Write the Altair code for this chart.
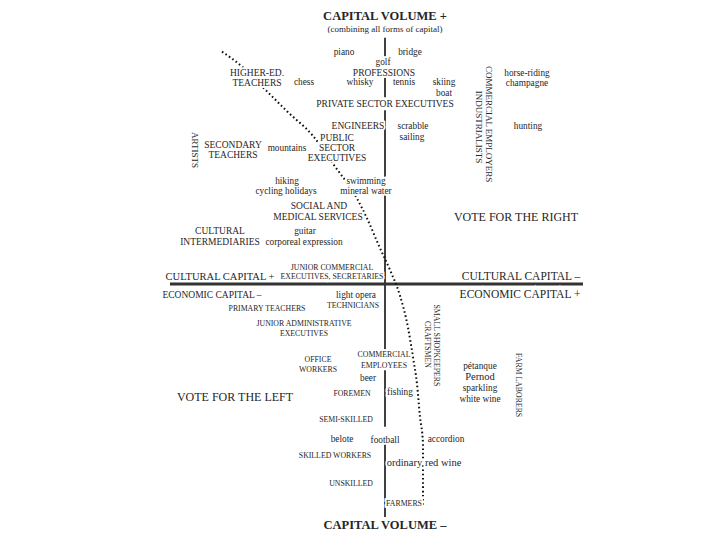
import altair as alt
import pandas as pd

# Social-space coordinates: x = (cultural capital +) <-> (economic capital +), y = capital volume
headers = [("CAPITAL VOLUME +", 0, 270), ("CAPITAL VOLUME –", 0, -243)]
subheader = [("(combining all forms of capital)", 0, 257)]
votes = [("VOTE FOR THE RIGHT", 131, 67), ("VOTE FOR THE LEFT", -150, -114)]
poles = [("CULTURAL CAPITAL +", -165, 7), ("CULTURAL CAPITAL –", 136, 7),
         ("ECONOMIC CAPITAL –", -173, -11), ("ECONOMIC CAPITAL +", 135, -11)]
occupations_major = [
    ("HIGHER-ED.", -128, 213), ("TEACHERS", -128, 202), ("PROFESSIONS", -1, 213),
    ("PRIVATE SECTOR EXECUTIVES", 0, 181), ("ENGINEERS", -27, 159),
    ("PUBLIC", -48, 147), ("SECTOR", -48, 137), ("EXECUTIVES", -48, 127),
    ("SECONDARY", -152, 140), ("TEACHERS", -152, 130),
    ("SOCIAL AND", -66, 78), ("MEDICAL SERVICES", -67, 67),
    ("CULTURAL", -165, 53), ("INTERMEDIARIES", -165, 42),
]
occupations_minor = [
    ("JUNIOR COMMERCIAL", -53, 16), ("EXECUTIVES, SECRETARIES", -53, 7),
    ("TECHNICIANS", -32, -22), ("PRIMARY TEACHERS", -118, -25),
    ("JUNIOR ADMINISTRATIVE", -81, -40), ("EXECUTIVES", -81, -51),
    ("OFFICE", -67, -77), ("WORKERS", -67, -87),
    ("COMMERCIAL", -1, -72), ("EMPLOYEES", -1, -83),
    ("FOREMEN", -33, -111), ("SEMI-SKILLED", -39, -137),
    ("SKILLED WORKERS", -50, -173), ("UNSKILLED", -34, -202), ("FARMERS", 19, -222),
]
occupations_vertical_major = [
    ("COMMERCIAL EMPLOYERS", 104, 161), ("INDUSTRIALISTS", 94, 158), ("ARTISTS", -190, 135),
]
occupations_vertical_minor = [
    ("SMALL SHOPKEEPERS", 51, -62), ("CRAFTSMEN", 42, -61), ("FARM LABORERS", 133, -102),
]
tastes = [
    ("piano", -41, 234), ("bridge", 25, 234), ("golf", -2, 224),
    ("chess", -81, 203), ("whisky", -25, 203), ("tennis", 19, 203),
    ("skiing", 59, 203), ("boat", 59, 192),
    ("horse-riding", 142, 212), ("champagne", 142, 202), ("hunting", 143, 159),
    ("scrabble", 28, 159), ("sailing", 27, 148), ("mountains", -98, 137),
    ("hiking", -98, 104), ("cycling holidays", -99, 94),
    ("swimming", -19, 104), ("mineral water", -19, 94),
    ("guitar", -80, 53), ("corporeal expression", -81, 42),
    ("light opera", -29, -11), ("beer", -17, -95), ("fishing", 15, -109),
    ("belote", -43, -156), ("football", 0, -157), ("accordion", 61, -156),
    ("pétanque", 95, -83), ("sparkling", 95, -105), ("white wine", 95, -116),
]
tastes_large = [("Pernod", 95, -94), ("ordinary red wine", 39, -181)]

# capital-volume axis (drawn in pieces, interrupted by labels)
volume_axis_from = [248, 208, 175, -87, -160]
volume_axis_to = [226, 188, -69, -144, -235]
# cultural/economic axis extent
structure_axis_x = [-215, 198]
# vote divide (dotted)
divide_x = [-163, -143, -122, -98, -72, -52, -28, -18, -5, 5, 15, 23, 28, 32, 35, 38, 38]
divide_y = [234, 219, 198, 174, 149, 121, 86, 66, 36, 14, -12, -44, -74, -101, -134, -161, -224]

XS = alt.Scale(domain=[-377, 327], nice=False, zero=False)
YS = alt.Scale(domain=[-246, 278], nice=False, zero=False)
FONT = "Liberation Serif"
INK = "#262626"


def df(rows):
    return pd.DataFrame(rows, columns=["label", "x", "y"])


def text_layer(rows, size, weight="normal", angle=0):
    enc = dict(
        x=alt.X("x:Q", scale=XS, axis=None),
        y=alt.Y("y:Q", scale=YS, axis=None),
        text="label:N",
    )
    common = dict(font=FONT, fontSize=size, fontWeight=weight, angle=angle,
                  align="center", baseline="middle")
    halo = alt.Chart(df(rows)).mark_text(
        color="white", stroke="white", strokeWidth=3.5, **common
    ).encode(**enc)
    ink = alt.Chart(df(rows)).mark_text(color=INK, **common).encode(**enc)
    return [halo, ink]


vaxis = alt.Chart(pd.DataFrame({"x": [0] * len(volume_axis_from),
                                "y": volume_axis_from, "y2": volume_axis_to})).mark_rule(
    color="#111", strokeWidth=1.6
).encode(x=alt.X("x:Q", scale=XS, axis=None), y=alt.Y("y:Q", scale=YS, axis=None), y2="y2:Q")

haxis = alt.Chart(pd.DataFrame({"x": [structure_axis_x[0]], "x2": [structure_axis_x[1]], "y": [0]})).mark_rule(
    color="#333", strokeWidth=3
).encode(x=alt.X("x:Q", scale=XS, axis=None), x2="x2:Q", y=alt.Y("y:Q", scale=YS, axis=None))

divide = alt.Chart(pd.DataFrame({"x": divide_x, "y": divide_y, "o": list(range(len(divide_x)))})).mark_line(
    color="#111", strokeWidth=2, strokeDash=[1.6, 2.6], interpolate="monotone"
).encode(x=alt.X("x:Q", scale=XS, axis=None), y=alt.Y("y:Q", scale=YS, axis=None), order="o:Q")

layers = [vaxis, haxis, divide]
layers += text_layer(headers, 12.5, "bold")
layers += text_layer(subheader, 9)
layers += text_layer(votes, 12)
layers += text_layer(poles[:1], 10.5)
layers += text_layer(poles[1:2], 11.5)
layers += text_layer(poles[2:3], 9.5)
layers += text_layer(poles[3:], 11.5)
layers += text_layer(occupations_major, 9.5)
layers += text_layer(occupations_minor, 7.8)
layers += text_layer(occupations_vertical_major, 9, angle=90)
layers += text_layer(occupations_vertical_minor, 7.8, angle=90)
layers += text_layer(tastes, 9.3)
layers += text_layer(tastes_large, 10.5)

chart = alt.layer(*layers).properties(
    width=704, height=524, padding=0,
    autosize=alt.AutoSizeParams(type="fit", contains="padding"),
    background="white",
).configure_view(stroke=None)

chart.save("out.html", embed_options={"renderer": "svg", "actions": False})
